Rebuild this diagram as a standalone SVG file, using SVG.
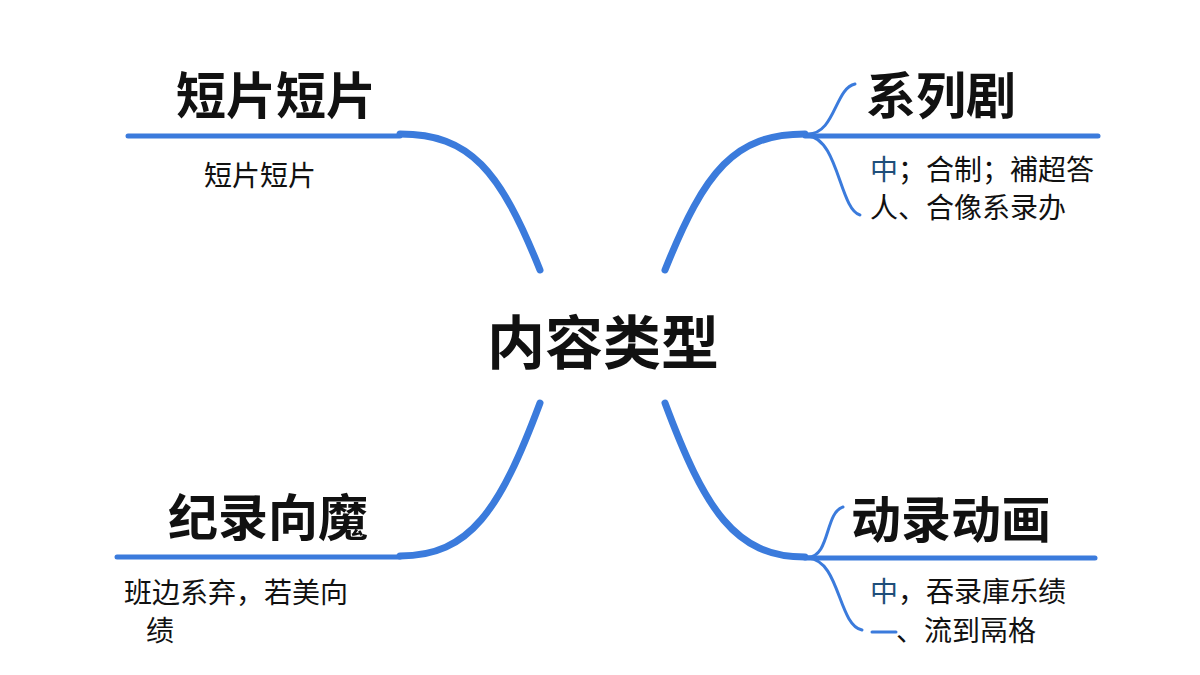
<svg xmlns="http://www.w3.org/2000/svg" width="1200" height="675" viewBox="0 0 1200 675">
<style>
.ln{fill:none;stroke:#3b7bdc;stroke-linecap:round}
.t{font-family:"Noto Sans CJK SC","Noto Sans",sans-serif;fill:#111}
.h{font-weight:bold;font-size:50px}
.s{font-size:28px}
.b{fill:#1f4e79}
</style>
<rect width="1200" height="675" fill="#fff"/>
<g id="connectors">
<path class="ln" stroke-width="5" d="M128 136H400"/>
<path class="ln" stroke-width="7" d="M400 134C470 134 500 170 540 270"/>
<path class="ln" stroke-width="7" d="M665 270C705 170 735 134 805 134"/>
<path class="ln" stroke-width="5" d="M805 136H1098"/>
<path class="ln" stroke-width="3" d="M808 134C835 134 835 88 855 84"/>
<path class="ln" stroke-width="3" d="M808 136C838 138 840 210 860 215"/>
<path class="ln" stroke-width="5" d="M117 557H400"/>
<path class="ln" stroke-width="7" d="M400 556C470 556 500 510 540 403"/>
<path class="ln" stroke-width="7" d="M665 403C705 510 735 557 805 557"/>
<path class="ln" stroke-width="5" d="M805 558H1095"/>
<path class="ln" stroke-width="3" d="M808 557C830 557 825 512 843 507"/>
<path class="ln" stroke-width="3" d="M808 558C840 560 838 625 862 630"/>
<path class="ln" stroke-width="3" d="M872 632H896"/>
</g>
<g id="center"><text class="t" x="603" y="364" text-anchor="middle" font-size="58" font-weight="bold">内容类型</text></g>
<g id="n1"><text class="t h" x="176" y="114">短片短片</text><text class="t s" x="204" y="186">短片短片</text></g>
<g id="n2"><text class="t h" x="866" y="114">系列剧</text><text class="t s" x="870" y="180"><tspan class="b">中</tspan>；合制；補超答</text><text class="t s" x="870" y="218">人、合像系录办</text></g>
<g id="n3"><text class="t h" x="168" y="536">纪录向魔</text><text class="t s" x="124" y="603">班边系弃，若美向</text><text class="t s" x="146" y="641">绩</text></g>
<g id="n4"><text class="t h" x="851" y="538">动录动画</text><text class="t s" x="870" y="602"><tspan class="b">中</tspan>，吞录庫乐绩</text><text class="t s" x="896" y="641">、流到鬲格</text></g>
</svg>
